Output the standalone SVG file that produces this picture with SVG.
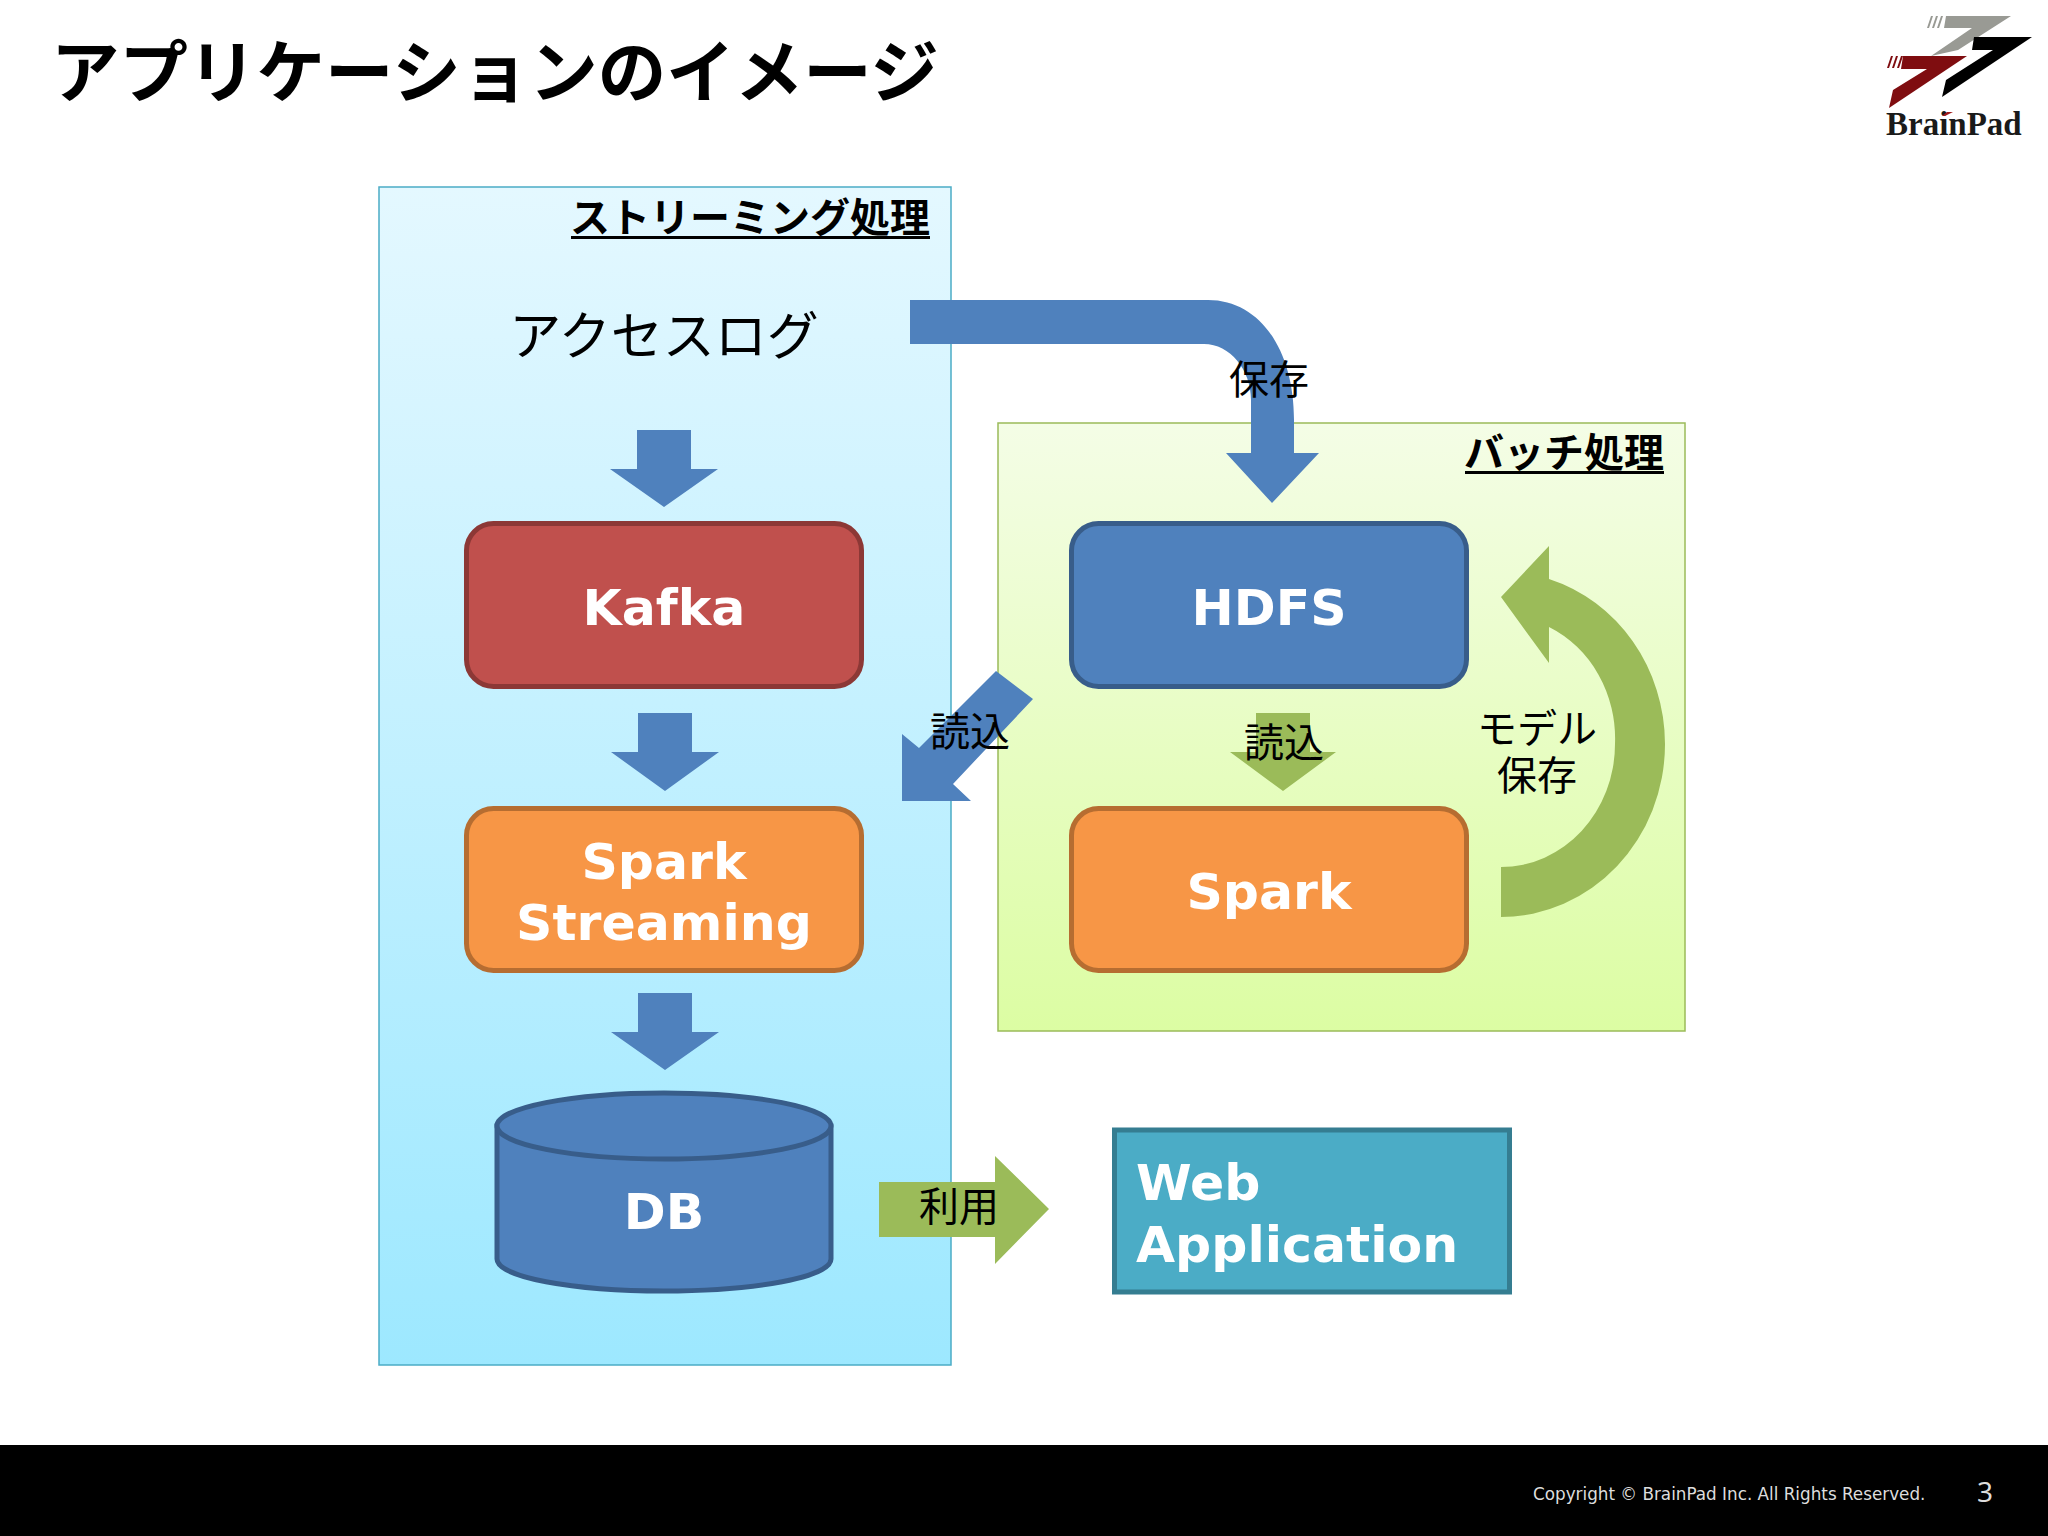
<svg xmlns="http://www.w3.org/2000/svg" width="2048" height="1536" viewBox="0 0 2048 1536">
<style>
.jp{font-family:"Noto Sans CJK JP","Noto Sans",sans-serif}
.b{font-weight:700}
.lab{font-size:40px;fill:#000;text-anchor:middle}
.head{font-size:40px;font-weight:700;fill:#000;text-anchor:end}
.node{font-family:"DejaVu Sans",sans-serif;font-weight:700;font-size:50.500px;fill:#fff;text-anchor:middle}
.box{stroke-width:5}
.blue{fill:#4f81bd}
.green{fill:#9bbb59}
</style>
<defs>
<linearGradient id="gs" x1="0" y1="0" x2="0" y2="1"><stop offset="0" stop-color="#e4f8ff"/><stop offset="1" stop-color="#9de8ff"/></linearGradient>
<linearGradient id="gb" x1="0" y1="0" x2="0" y2="1"><stop offset="0" stop-color="#f4fde6"/><stop offset="1" stop-color="#dcfda3"/></linearGradient>
</defs>
<rect width="2048" height="1536" fill="#fff"/>
<text id="title" class="jp b" x="51" y="97" font-size="68.500" fill="#000">アプリケーションのイメージ</text>
<g id="logo">
<g fill="#999a94"><polygon points="1946,16 2011,16 1958,50 1931,56 1972,28 1944,28"/><path d="M1936 16l-4 12h2l4-12zM1931 16l-4 12h2l4-12zM1941 16l-4 12h2l4-12z"/></g>
<g fill="#000"><polygon points="1974,37 2032,37 1942,97 1946,80 1993,50 1972,50"/></g>
<g fill="#7f0d10"><polygon points="1903,56 1967,56 1889,108 1893,90 1927,69 1901,69"/><path d="M1896 56l-4 12h2l4-12zM1891 56l-4 12h2l4-12zM1901 56l-4 12h2l4-12z"/></g>
<text x="1886" y="135" font-family="'Liberation Serif',serif" font-weight="700" font-size="33" fill="#1a1a1a">BrainPad</text>
<path d="M1942 116l5-4h6l-8 4z" fill="#a01a1a"/>
</g>
<g id="streaming">
<rect x="379" y="187" width="572" height="1178" fill="url(#gs)" stroke="#4bacc6" stroke-width="1.500"/>
<text class="jp head" x="930" y="232">ストリーミング処理</text>
<rect x="571" y="236" width="359" height="3" fill="#000"/>
</g>
<g id="batch">
<rect x="998" y="423" width="687" height="608" fill="url(#gb)" stroke="#9bbb59" stroke-width="1.500"/>
<text class="jp head" x="1664" y="467">バッチ処理</text>
<rect x="1465" y="471" width="199" height="3" fill="#000"/>
</g>
<g id="accesslog"><text class="jp" x="664" y="355" font-size="52" text-anchor="middle" fill="#000">アクセスログ</text></g>
<g id="kafka"><rect class="box" x="466.500" y="523.500" width="395" height="163" rx="27" fill="#c0504d" stroke="#8c3836"/><text class="node" x="664" y="625">Kafka</text></g>
<g id="spark-streaming"><rect class="box" x="466.500" y="808.500" width="395" height="162" rx="27" fill="#f79646" stroke="#b66d31"/><text class="node" x="664" y="879">Spark<tspan x="664" dy="61">Streaming</tspan></text></g>
<g id="db"><path class="box" d="M497 1126V1259C497 1277 572 1291 664 1291S831 1277 831 1259V1126Z" fill="#4f81bd" stroke="#385d8a"/><ellipse class="box" cx="664" cy="1126" rx="167" ry="33" fill="#4f81bd" stroke="#385d8a"/><text class="node" x="664" y="1229">DB</text></g>
<g id="hdfs"><rect class="box" x="1071.500" y="523.500" width="395" height="163" rx="27" fill="#4f81bd" stroke="#385d8a"/><text class="node" x="1269" y="625">HDFS</text></g>
<g id="spark"><rect class="box" x="1071.500" y="808.500" width="395" height="162" rx="27" fill="#f79646" stroke="#b66d31"/><text class="node" x="1269" y="909">Spark</text></g>
<g id="webapp"><rect class="box" x="1114.500" y="1130" width="395" height="162" fill="#4bacc6" stroke="#357d91"/><text class="node" x="1136" y="1200" style="text-anchor:start">Web<tspan x="1136" dy="62">Application</tspan></text></g>
<g id="connectors">
<polygon class="blue" points="637,430 691,430 691,469 718,469 664,507 610,469 637,469"/>
<polygon class="blue" points="638,713 692,713 692,752 719,752 665,791 611,752 638,752"/>
<polygon class="blue" points="638,993 692,993 692,1032 719,1032 665,1070 611,1032 638,1032"/>
<path class="blue" d="M910 300H1208C1260 300 1294 350 1294 420V453H1319L1272 503L1226 453H1251V400C1251 370 1230 344 1204 344H910Z"/>
<polygon class="blue" points="996,671 1033,699 953,784 971,801 902,801 902,734 919,748"/>
<polygon class="green" points="1256,713 1310,713 1310,752 1336,752 1283,791 1230,752 1256,752"/>
<path class="green" d="M1501 597L1549 546V579A164 173 0 0 1 1665 744A164 173 0 0 1 1501 917V867A114 123 0 0 0 1615 744A114 123 0 0 0 1549 627V663Z"/>
<polygon class="green" points="879,1182 995,1182 995,1156 1049,1209 995,1264 995,1237 879,1237"/>
<text class="jp lab" x="1269" y="394">保存</text>
<text class="jp lab" x="970" y="746">読込</text>
<text class="jp lab" x="1284" y="757">読込</text>
<text class="jp lab" x="1537" y="743">モデル<tspan x="1537" dy="47">保存</tspan></text>
<text class="jp lab" x="959" y="1221">利用</text>
</g>
<g id="footer">
<rect y="1445" width="2048" height="91" fill="#000"/>
<text x="1533" y="1500" font-family="'DejaVu Sans',sans-serif" font-size="16.800" fill="#ddd">Copyright © BrainPad Inc. All Rights Reserved.</text>
<text x="1985" y="1502" font-family="'Noto Sans',sans-serif" font-size="28" text-anchor="middle" fill="#ddd">3</text>
</g>
</svg>
